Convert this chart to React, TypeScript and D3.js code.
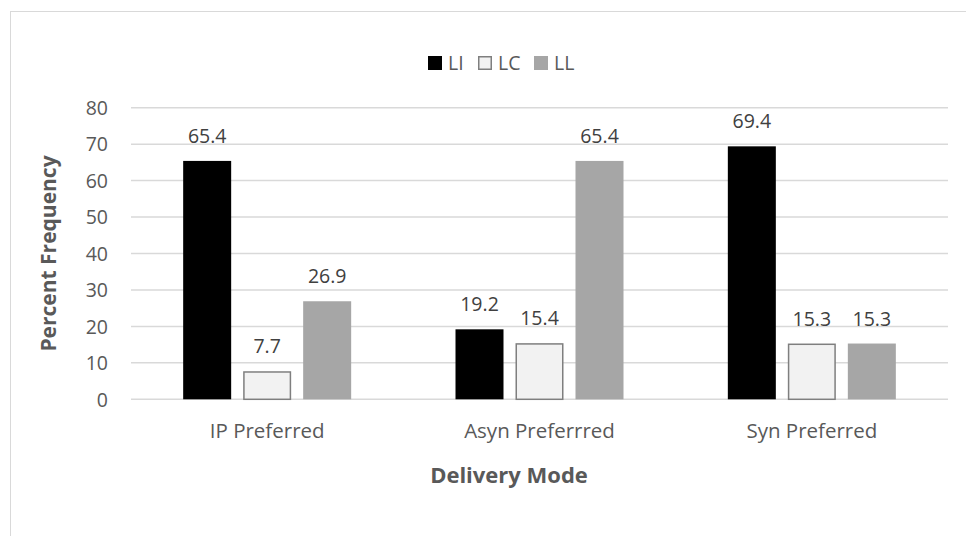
import React from "react";
import * as d3 from "d3";

const categories = ["IP Preferred", "Asyn Preferrred", "Syn Preferred"];
const seriesNames = ["LI", "LC", "LL"];
const LI = [65.4, 19.2, 69.4];
const LC = [7.7, 15.4, 15.3];
const LL = [26.9, 65.4, 15.3];
const yTicks = [0, 10, 20, 30, 40, 50, 60, 70, 80];

const fills = ["#000000", "#f2f2f2", "#a6a6a6"];
const strokes = ["none", "#7f7f7f", "none"];
const FONT = "'Open Sans', 'Liberation Sans', sans-serif";

export default function App() {
  const W = 966, H = 536;
  const left = 131, right = 948, top = 107.7, bottom = 399.3;
  const x0 = d3.scaleBand().domain(categories).range([left, right]).paddingInner(0).paddingOuter(0);
  const groupW = 168;
  const x1 = d3.scaleBand().domain(seriesNames).range([0, groupW]).paddingInner(0.2).paddingOuter(0);
  const y = d3.scaleLinear().domain([0, 80]).range([bottom, top]);
  const series = [LI, LC, LL];
  const legendX = [428, 478, 534];

  return (
    <svg width={W} height={H} style={{ position: "absolute", left: 0, top: 0, background: "#fff" }}>
      <rect x={0} y={0} width={W} height={H} fill="#fff" />
      <rect x={10.5} y={11.5} width={W} height={H} fill="none" stroke="#d9d9d9" strokeWidth={1} />
      {/* legend */}
      {seriesNames.map((s, i) => (
        <g key={s}>
          <rect
            x={legendX[i] + (i === 1 ? 0.75 : 0)}
            y={56 + (i === 1 ? 0.75 : 0)}
            width={i === 1 ? 12.5 : 14}
            height={i === 1 ? 12.5 : 14}
            fill={fills[i]}
            stroke={strokes[i]}
            strokeWidth={1.5}
          />
          <text x={legendX[i] + 20} y={69.5} fontFamily={FONT} fontSize={19.5} fill="#595959">{s}</text>
        </g>
      ))}
      {/* gridlines */}
      {yTicks.map((t) => (
        <g key={t}>
          <line x1={left} x2={right} y1={y(t)} y2={y(t)} stroke="#d9d9d9" strokeWidth={1.5} />
          <text x={108} y={y(t) + 7.3} textAnchor="end" fontFamily={FONT} fontSize={19.5} fill="#595959">{t}</text>
        </g>
      ))}
      {/* bars */}
      {categories.map((c, ci) => {
        const gx = (x0(c) as number) + (x0.bandwidth() - groupW) / 2;
        return (
          <g key={c}>
            {series.map((vals, si) => {
              const bx = gx + (x1(seriesNames[si]) as number);
              const v = vals[ci];
              const hasStroke = strokes[si] !== "none";
              return (
                <g key={si}>
                  <rect
                    x={bx + (hasStroke ? 0.75 : 0)}
                    y={y(v) + (hasStroke ? 0.75 : 0)}
                    width={x1.bandwidth() - (hasStroke ? 1.5 : 0)}
                    height={bottom - y(v) - (hasStroke ? 0.75 : 0)}
                    fill={fills[si]}
                    stroke={strokes[si]}
                    strokeWidth={1.5}
                  />
                  <text x={bx + x1.bandwidth() / 2} y={y(v) - 18} textAnchor="middle" fontFamily={FONT} fontSize={19.5} fill="#404040">
                    {v.toFixed(1)}
                  </text>
                </g>
              );
            })}
            <text x={(x0(c) as number) + x0.bandwidth() / 2} y={438} textAnchor="middle" fontFamily={FONT} fontSize={20.5} fill="#595959">{c}</text>
          </g>
        );
      })}
      <text x={509} y={483} textAnchor="middle" fontFamily={FONT} fontSize={22} fontWeight="bold" fill="#595959">Delivery Mode</text>
      <text transform={`translate(56, ${(top + bottom) / 2}) rotate(-90)`} textAnchor="middle" fontFamily={FONT} fontSize={21} fontWeight="bold" fill="#595959">Percent Frequency</text>
    </svg>
  );
}
